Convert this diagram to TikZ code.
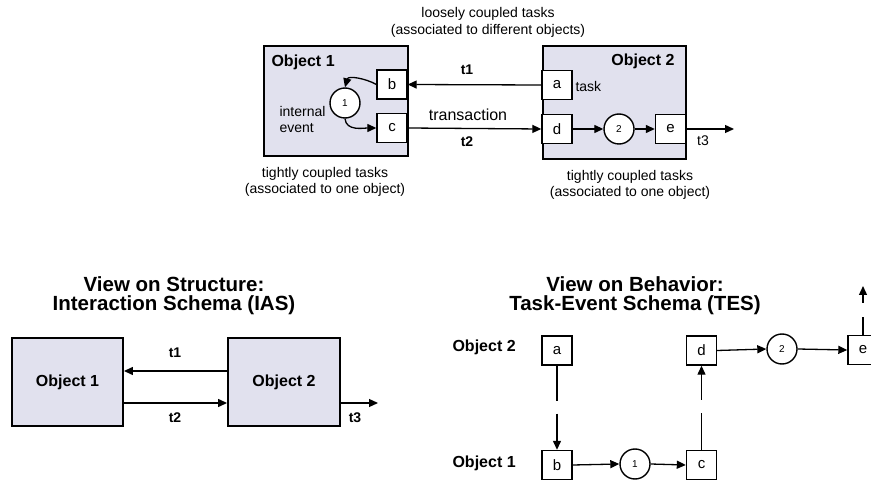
\documentclass[tikz,border=0pt]{standalone}
\usepackage{fontspec}
\setmainfont{Liberation Sans}
\usetikzlibrary{arrows.meta}
\definecolor{objfill}{RGB}{225,225,238}
\tikzset{
  objbox/.style={draw, line width=1.9pt, fill=objfill, inner sep=0pt},
  taskbox/.style={draw, fill=white, line width=1.4pt, minimum width=30pt,
    minimum height=29pt, inner sep=0pt, font=\fontsize{15}{15}\selectfont},
  evt/.style={circle, draw, fill=white, line width=1.4pt, minimum size=30pt,
    inner sep=0pt, font=\fontsize{10}{10}\selectfont},
  flow/.style={-{Triangle[length=9pt,width=8pt]}, line width=1.3pt},
  small/.style={font=\fontsize{14}{16.5}\selectfont, align=center},
  objlabel/.style={font=\fontsize{16}{16}\selectfont\bfseries},
  tlabel/.style={font=\fontsize{14}{14}\selectfont\bfseries},
  title/.style={font=\fontsize{20.5}{19}\selectfont\bfseries, align=center},
}
\begin{document}
\begin{tikzpicture}[x=1pt, y=-1pt]
\clip (0,0) rectangle (871,481);
\useasboundingbox (0,0) rectangle (871,481);

% ---------- combined view: objects with their tasks ----------
\node[objbox, anchor=north west, minimum width=144pt, minimum height=110pt] (o1) at (263,45) {};
\node[objbox, anchor=north west, minimum width=143pt, minimum height=113pt] (o2) at (542,45) {};
\node[objlabel, anchor=west] (o1l) at (268,62) {Object 1};
\node[objlabel, anchor=east] (o2l) at (678,61) {Object 2};

\node[taskbox] (b) at (392,84.5) {b};
\node[taskbox] (c) at (392,128) {c};
\node[evt] (e1) at (345,103) {1};
\node[small, align=left, anchor=west] (ie) at (276,119.5) {internal\\event};

\node[taskbox] (a) at (557,85) {a};
\node[taskbox] (d) at (557,129) {d};
\node[evt] (e2) at (619,129) {2};
\node[taskbox] (e) at (670.5,129) {e};
\coordinate (out3) at (734,129);
\node[small, anchor=west] (tk) at (572,86) {task};

\draw[flow] (b.west) to[out=150,in=75] (e1.north);
\draw[flow] (e1.south) to[out=-85,in=180] (c.west);
\draw[flow] (a.west) -- (b.east);
\draw[flow] (c.east) -- (d.west);
\draw[flow] (d.east) -- (e2.west);
\draw[flow] (e2.east) -- (e.west);
\draw[flow] (e.east) -- (out3);

\node[tlabel] (t1) at (467,70) {t1};
\node[small, font=\fontsize{16}{16}\selectfont] (tr) at (468,115) {transaction};
\node[tlabel] (t2) at (467,142) {t2};
\node[small] (t3) at (703,141) {t3};

\node[small] (loose) at (488,22.5) {loosely coupled tasks\\(associated to different objects)};
\node[small] (tight1) at (325,182) {tightly coupled tasks\\(associated to one object)};
\node[small] (tight2) at (630,185) {tightly coupled tasks\\(associated to one object)};

% ---------- structural view (IAS) ----------
\node[title] (tis) at (174,296) {View on Structure:\\Interaction Schema (IAS)};
\node[objbox, minimum width=111pt, minimum height=88pt, objlabel] (s1) at (67.5,382) {Object 1};
\node[objbox, minimum width=112pt, minimum height=88pt, objlabel] (s2) at (284,382) {Object 2};
\coordinate (s3) at (378,403);
\draw[flow] (s2.west |- 0,371) -- (s1.east |- 0,371);
\draw[flow] (s1.east |- 0,403) -- (s2.west |- 0,403);
\draw[flow] (s2.east |- 0,403) -- (s3);
\node[tlabel] (st1) at (175,353) {t1};
\node[tlabel] (st2) at (175,418) {t2};
\node[tlabel] (st3) at (355,418) {t3};

% ---------- behavioural view (TES) ----------
\node[title] (tbe) at (635,296) {View on Behavior:\\Task-Event Schema (TES)};
\node[objlabel, anchor=west] (r2) at (449,347) {Object 2};
\node[objlabel, anchor=west] (r1) at (449,463) {Object 1};

\node[taskbox] (ta) at (557,350.5) {a};
\node[taskbox] (tb) at (557,465) {b};
\node[evt] (te1) at (635,464) {1};
\node[taskbox] (tc) at (701.5,465) {c};
\node[taskbox] (td) at (701.5,350.5) {d};
\node[evt] (te2) at (782,349) {2};
\node[taskbox] (te) at (863,350) {e};
\coordinate (tup) at (863,286);

\draw[flow, dash pattern=on 35pt off 13pt on 60pt] (ta.south) -- (tb.north);
\draw[flow] (tb.east) -- (te1.west);
\draw[flow] (te1.east) -- (tc.west);
\draw[flow, dash pattern=on 37pt off 13pt on 60pt] (tc.north) -- (td.south);
\draw[flow] (td.east) -- (te2.west);
\draw[flow] (te2.east) -- (te.west);
\draw[flow, dash pattern=on 18pt off 14pt on 40pt] (te.north) -- (tup);
\end{tikzpicture}
\end{document}
